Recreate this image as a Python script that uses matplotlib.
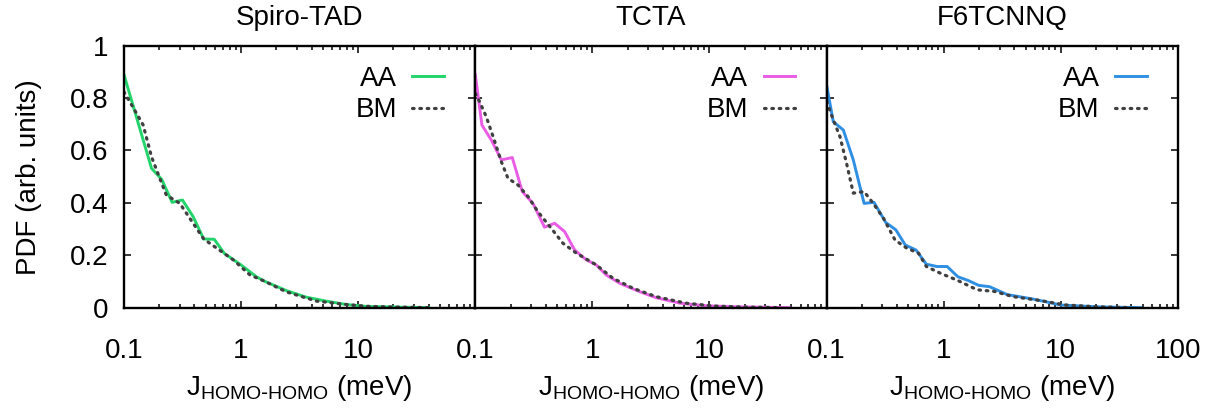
import numpy as np
import matplotlib.pyplot as plt

plt.rcParams['font.family'] = ['Liberation Sans', 'DejaVu Sans']
plt.rcParams['mathtext.default'] = 'regular'

titles = ['Spiro-TAD', 'TCTA', 'F6TCNNQ']
colors = ['#22d46a', '#ea5ce6', '#2f8fe3']

# Spiro-TAD
spiro_aa_x = [0.1, 0.172, 0.21, 0.258, 0.316, 0.39, 0.48, 0.59, 0.72, 1.0, 1.35, 1.6,
              2.44, 3.6, 5.3, 7.9, 11.5, 22, 40]
spiro_aa_y = [0.89, 0.532, 0.49, 0.402, 0.411, 0.347, 0.262, 0.261, 0.207, 0.163, 0.118, 0.10,
              0.065, 0.04, 0.025, 0.012, 0.005, 0.002, 0.0]
spiro_bm_x = [0.1, 0.128, 0.146, 0.172, 0.21, 0.23, 0.3, 0.39, 0.48, 0.62, 0.86, 1.19, 1.6,
              2.44, 4.4, 7.9, 12, 22, 40]
spiro_bm_y = [0.824, 0.742, 0.697, 0.576, 0.475, 0.43, 0.398, 0.322, 0.262, 0.227, 0.182, 0.125, 0.10,
              0.06, 0.025, 0.012, 0.005, 0.002, 0.0]

# TCTA
tcta_aa_x = [0.1, 0.114, 0.137, 0.167, 0.207, 0.252, 0.311, 0.39, 0.476, 0.58, 0.705, 0.89, 1.08,
             1.31, 1.71, 2.53, 3.5, 5.6, 9.4, 18, 48]
tcta_aa_y = [0.89, 0.697, 0.64, 0.564, 0.573, 0.443, 0.398, 0.307, 0.322, 0.29, 0.22, 0.182, 0.163,
             0.125, 0.093, 0.061, 0.038, 0.017, 0.007, 0.003, 0.0]
tcta_bm_x = [0.1, 0.109, 0.124, 0.142, 0.167, 0.19, 0.232, 0.282, 0.343, 0.445, 0.56, 0.73, 1.08,
             1.5, 2.22, 3.5, 6.3, 11, 20, 40]
tcta_bm_y = [0.818, 0.786, 0.729, 0.653, 0.557, 0.494, 0.468, 0.424, 0.366, 0.303, 0.246, 0.208, 0.163,
             0.112, 0.074, 0.042, 0.017, 0.006, 0.002, 0.0]

# F6TCNNQ
f6_aa_x = [0.1, 0.114, 0.139, 0.169, 0.209, 0.254, 0.32, 0.39, 0.47, 0.58, 0.71, 0.875, 1.07,
           1.32, 1.63, 1.99, 2.46, 3.48, 5.9, 10, 21, 48]
f6_aa_y = [0.85, 0.71, 0.678, 0.564, 0.398, 0.402, 0.325, 0.297, 0.239, 0.22, 0.166, 0.157, 0.157,
           0.118, 0.103, 0.085, 0.08, 0.05, 0.032, 0.01, 0.003, 0.0]
f6_bm_x = [0.1, 0.114, 0.13, 0.148, 0.169, 0.209, 0.25, 0.306, 0.384, 0.484, 0.61, 0.71, 0.94,
           1.3, 1.93, 2.7, 3.9, 6.7, 11, 21, 40]
f6_bm_y = [0.787, 0.717, 0.653, 0.551, 0.437, 0.443, 0.398, 0.341, 0.258, 0.227, 0.208, 0.157, 0.131,
           0.105, 0.068, 0.062, 0.042, 0.027, 0.01, 0.003, 0.0]

aa = [(spiro_aa_x, spiro_aa_y), (tcta_aa_x, tcta_aa_y), (f6_aa_x, f6_aa_y)]
bm = [(spiro_bm_x, spiro_bm_y), (tcta_bm_x, tcta_bm_y), (f6_bm_x, f6_bm_y)]

fs = 20

fig, axes = plt.subplots(1, 3, figsize=(12.15, 4.08), dpi=100, sharey=True)
fig.subplots_adjust(left=0.102, right=0.9695, bottom=0.246, top=0.888, wspace=0)

for i, ax in enumerate(axes):
    ax.plot(aa[i][0], aa[i][1], color=colors[i], lw=2.1, label='AA')
    ax.plot(bm[i][0], bm[i][1], color='#404040', lw=2.3, ls=(0, (0.5, 1.8)),
            dash_capstyle='round', label='BM')
    ax.set_xscale('log')
    ax.set_xlim(0.1, 100)
    ax.set_ylim(0, 1)
    ax.set_yticks([0, 0.2, 0.4, 0.6, 0.8, 1])
    ax.set_yticklabels(['0', '0.2', '0.4', '0.6', '0.8', '1'])
    ax.set_xticks([0.1, 1, 10, 100])
    if i < 2:
        ax.set_xticklabels(['0.1', '1', '10', ''])
    else:
        ax.set_xticklabels(['0.1', '1', '10', '100'])
    ax.tick_params(which='both', direction='in', top=True, right=True, labelsize=fs)
    ax.tick_params(axis='x', pad=22)
    ax.tick_params(axis='y', pad=11)
    ax.tick_params(which='major', length=5, width=1.1)
    ax.tick_params(which='minor', length=3, width=1.1)
    for s in ax.spines.values():
        s.set_linewidth(1.7)
    ax.set_title(titles[i], fontsize=fs, pad=15)
    ax.set_xlabel(r'J$_{HOMO\text{-}HOMO}$ (meV)', fontsize=fs, labelpad=6)
    ax.legend(loc='upper right', bbox_to_anchor=(0.943, 0.966), frameon=False,
              markerfirst=False, fontsize=fs, handlelength=1.15, handletextpad=0.55,
              labelspacing=0.2, borderaxespad=0)

axes[0].set_ylabel('PDF (arb. units)', fontsize=fs, labelpad=20)

fig.savefig('out.png')
